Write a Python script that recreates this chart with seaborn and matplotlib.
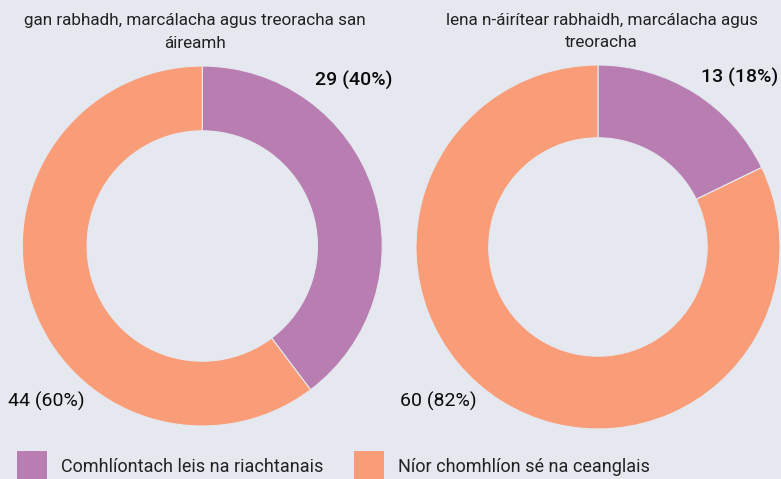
#!/usr/bin/env python
# coding: utf8

""" Two donuts - compliance with requirements. """

import matplotlib
matplotlib.use('Agg')
import seaborn as sns
from matplotlib import pyplot as plt
from matplotlib.patches import Patch

# data
titles = ['gan rabhadh, marcálacha agus treoracha san\náireamh',
          'lena n-áirítear rabhaidh, marcálacha agus\ntreoracha']
categories = ['Comhlíontach leis na riachtanais', 'Níor chomhlíon sé na ceanglais']
left_values = [29, 44]
right_values = [13, 60]
left_pct = [40, 60]
right_pct = [18, 82]

bg = '#e6e8f0'
colors = ['#b97eb1', '#f99d78']

sns.set_theme(style='white', rc={'figure.facecolor': bg, 'axes.facecolor': bg})
plt.rcParams['font.family'] = ['Roboto', 'DejaVu Sans']

fig = plt.figure(figsize=(7.81, 4.79), dpi=100)

# axes placed so each pie fills its box
ax_left = fig.add_axes([0.02855, 0.1106, 0.4609, 0.7516])
ax_right = fig.add_axes([0.5326, 0.1044, 0.4661, 0.7599])

setups = [
    (ax_left, left_values, left_pct, titles[0], 0.36,
     [(0.843, 0.922, 'medium'), (-0.868, -0.861, 'normal')], (-0.04, 1.19)),
    (ax_right, right_values, right_pct, titles[1], 0.40,
     [(0.780, 0.929, 'medium'), (-0.879, -0.846, 'normal')], (0.02, 1.183)),
]

for ax, vals, pcts, title, width, label_pos, title_xy in setups:
    ax.pie(vals, colors=colors, startangle=90, counterclock=False,
           radius=1, wedgeprops=dict(width=width, edgecolor=bg, linewidth=0.8))
    ax.set_xlim(-1, 1)
    ax.set_ylim(-1, 1)
    ax.set_aspect('equal')
    ax.axis('off')
    for (x, y, w), v, p in zip(label_pos, vals, pcts):
        ax.text(x, y, f'{v} ({p}%)', ha='center', va='center',
                fontsize=14, fontweight=w, color='#0a0a0a')
    ax.text(title_xy[0], title_xy[1], title, ha='center', va='center', fontsize=12.3,
            color='#222222', linespacing=1.62)

handles = [Patch(facecolor=c, edgecolor='none') for c in colors]
fig.legend(handles, categories, loc='lower left', bbox_to_anchor=(0.0218, -0.004),
           ncol=2, frameon=False, fontsize=13, handlelength=1.65, handleheight=2.15,
           handletextpad=0.78, columnspacing=1.7, borderpad=0, borderaxespad=0,
           labelcolor='#222222')

plt.savefig('out.png', dpi=100, facecolor=bg)
plt.close()
